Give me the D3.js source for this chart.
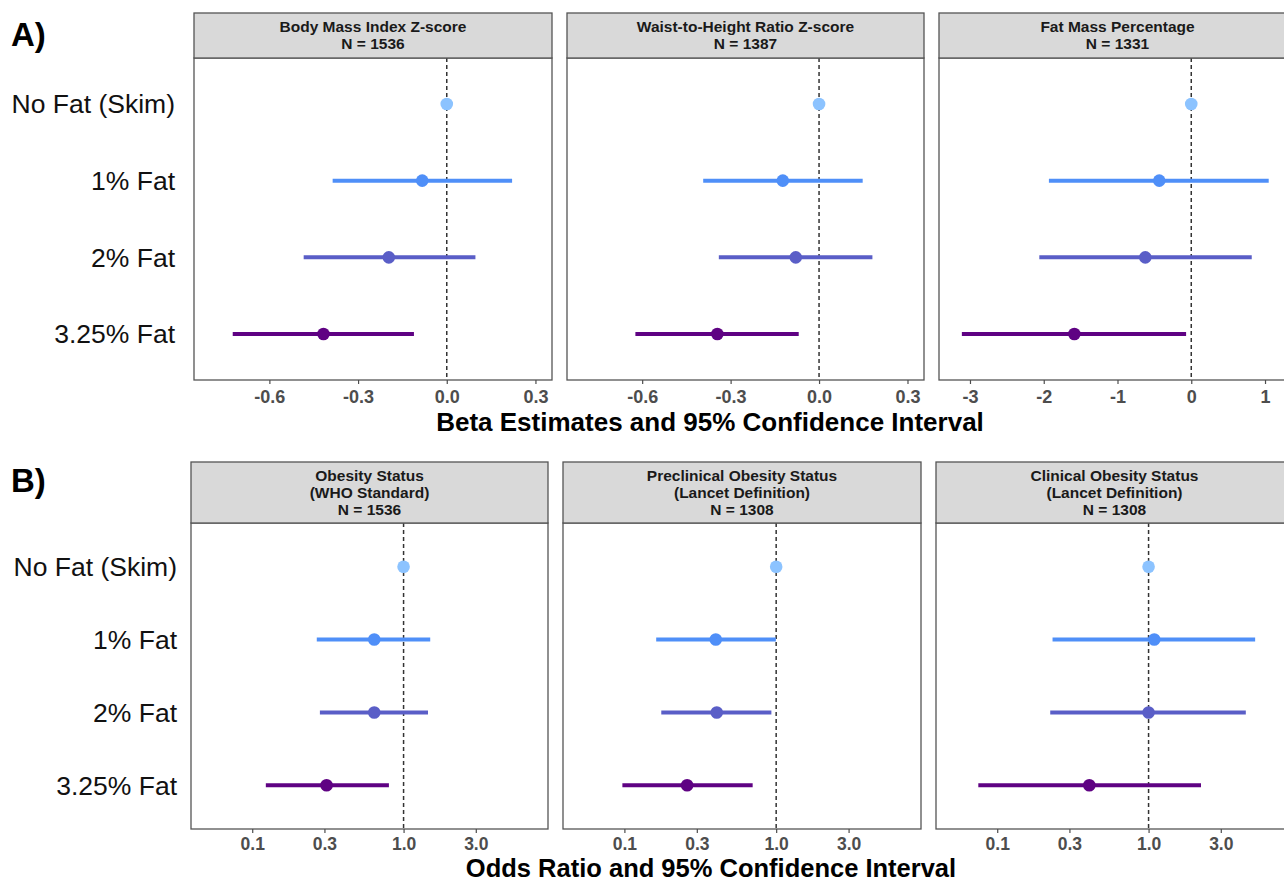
<!DOCTYPE html>
<html><head><meta charset="utf-8">
<script src="https://cdn.jsdelivr.net/npm/d3@7"></script>
<style>
body{margin:0;background:#fff;}
svg{display:block;font-family:"Liberation Sans",Arial,Helvetica,sans-serif;}
</style></head>
<body>
<svg id="chart" width="1284" height="883"></svg>
<script>
// ---------- DATA ----------
const categories = ["No Fat (Skim)", "1% Fat", "2% Fat", "3.25% Fat"];
const catColors = ["#8cc3ff", "#4f8ff8", "#5a5ec7", "#5f0283"];

// Panel A: beta estimates (No Fat = reference)
const bmiEst = [0, -0.083, -0.196, -0.417];
const bmiLo  = [0, -0.386, -0.484, -0.724];
const bmiHi  = [0,  0.221,  0.097, -0.111];

const whtrEst = [0, -0.123, -0.079, -0.345];
const whtrLo  = [0, -0.393, -0.340, -0.623];
const whtrHi  = [0,  0.148,  0.181, -0.069];

const fmpEst = [0, -0.434, -0.623, -1.585];
const fmpLo  = [0, -1.93, -2.06, -3.11];
const fmpHi  = [0,  1.05,  0.82, -0.07];

// Panel B: odds ratios (No Fat = reference)
const obEst = [1, 0.64, 0.64, 0.31];
const obLo  = [1, 0.267, 0.28, 0.123];
const obHi  = [1, 1.50, 1.45, 0.80];

const preEst = [1, 0.40, 0.406, 0.259];
const preLo  = [1, 0.162, 0.175, 0.097];
const preHi  = [1, 0.995, 0.93, 0.70];

const cliEst = [1, 1.09, 1.0, 0.406];
const cliLo  = [1, 0.232, 0.224, 0.075];
const cliHi  = [1, 5.06, 4.39, 2.22];

const betaTicks = [-0.6, -0.3, 0.0, 0.3];
const fmpTicks = [-3, -2, -1, 0, 1];
const orTicks = [0.1, 0.3, 1.0, 3.0];

const stripA = [["Body Mass Index Z-score", "N = 1536"], ["Waist-to-Height Ratio Z-score", "N = 1387"], ["Fat Mass Percentage", "N = 1331"]];
const stripB = [["Obesity Status", "(WHO Standard)", "N = 1536"], ["Preclinical Obesity Status", "(Lancet Definition)", "N = 1308"], ["Clinical Obesity Status", "(Lancet Definition)", "N = 1308"]];

// ---------- DRAW ----------
const svg = d3.select("#chart");
const border = "#555555";
const hyphen = f => (d => f(d).replace("\u2212", "-"));

function makeRows(est, lo, hi) {
  return categories.map((c, i) => ({cat: c, est: est[i], lo: lo[i], hi: hi[i], color: catColors[i]}));
}

function drawPanel(cfg) {
  const {x0, x1, stripTop, stripBot, bottom, xScale, ticks, fmt, refVal, rows, strip, lineGap, tickY, tickSize, showY, labelX} = cfg;
  const g = svg.append("g");
  const y = d3.scalePoint().domain(categories).range([stripBot, bottom]).padding(0.6);
  g.append("rect").attr("x", x0).attr("y", stripBot).attr("width", x1 - x0).attr("height", bottom - stripBot)
    .attr("fill", "#fff");
  g.append("line").attr("x1", xScale(refVal)).attr("x2", xScale(refVal))
    .attr("y1", stripBot).attr("y2", bottom)
    .attr("stroke", "#333").attr("stroke-width", 1.5).attr("stroke-dasharray", "4,3");
  g.selectAll(".ci").data(rows).join("line")
    .attr("x1", d => xScale(d.lo)).attr("x2", d => xScale(d.hi))
    .attr("y1", d => y(d.cat)).attr("y2", d => y(d.cat))
    .attr("stroke", d => d.color).attr("stroke-width", 4);
  g.selectAll(".pt").data(rows).join("circle")
    .attr("cx", d => xScale(d.est)).attr("cy", d => y(d.cat)).attr("r", 6.3)
    .attr("fill", d => d.color);
  g.append("rect").attr("x", x0).attr("y", stripBot).attr("width", x1 - x0).attr("height", bottom - stripBot)
    .attr("fill", "none").attr("stroke", border).attr("stroke-width", 1.3);
  g.append("rect").attr("x", x0).attr("y", stripTop).attr("width", x1 - x0).attr("height", stripBot - stripTop)
    .attr("fill", "#d9d9d9").attr("stroke", border).attr("stroke-width", 1.3);
  const midY = (stripTop + stripBot) / 2;
  strip.forEach((t, i) => {
    g.append("text").attr("x", (x0 + x1) / 2)
      .attr("y", midY + (i - (strip.length - 1) / 2) * lineGap)
      .attr("dy", "0.35em").attr("text-anchor", "middle")
      .attr("font-size", 15.5).attr("font-weight", "bold").attr("fill", "#1a1a1a").text(t);
  });
  const ax = g.append("g").attr("transform", `translate(0,${bottom})`)
    .call(d3.axisBottom(xScale).tickValues(ticks).tickFormat(fmt).tickSize(4).tickPadding(4));
  ax.select(".domain").remove();
  ax.selectAll(".tick line").attr("stroke", "#4d4d4d").attr("stroke-width", 1.2);
  ax.selectAll(".tick text").attr("font-size", tickSize).attr("font-weight", "bold")
    .attr("fill", "#4d4d4d").attr("font-family", "Liberation Sans, Arial, sans-serif")
    .attr("y", null).attr("dy", null).attr("transform", `translate(0,${tickY - bottom})`)
    .attr("dominant-baseline", "central");
  if (showY) {
    svg.append("g").selectAll("text").data(categories).join("text")
      .attr("x", labelX).attr("y", d => y(d)).attr("dy", "0.35em")
      .attr("text-anchor", "end").attr("font-size", 26.5).attr("fill", "#111").text(d => d);
  }
}

// Panel A
const topCfg = {stripTop: 13, stripBot: 58, bottom: 380, lineGap: 17, tickY: 397, tickSize: 18, labelX: 175};
const betaDomain = [-0.855, 0.356];
const panelsA = [
  {x0: 194, x1: 552, dom: betaDomain, ticks: betaTicks, fmt: hyphen(d3.format(".1f")), rows: makeRows(bmiEst, bmiLo, bmiHi)},
  {x0: 567, x1: 924, dom: betaDomain, ticks: betaTicks, fmt: hyphen(d3.format(".1f")), rows: makeRows(whtrEst, whtrLo, whtrHi)},
  {x0: 939, x1: 1296, dom: [-3.42, 1.42], ticks: fmpTicks, fmt: hyphen(d3.format("d")), rows: makeRows(fmpEst, fmpLo, fmpHi)}
];
panelsA.forEach((p, i) => {
  drawPanel(Object.assign({}, topCfg, {
    x0: p.x0, x1: p.x1, xScale: d3.scaleLinear().domain(p.dom).range([p.x0, p.x1]),
    ticks: p.ticks, fmt: p.fmt, refVal: 0, rows: p.rows, strip: stripA[i], showY: i === 0
  }));
});

// Panel B
const botCfg = {stripTop: 462, stripBot: 523, bottom: 829, lineGap: 17, tickY: 843.5, tickSize: 17.5, labelX: 177};
const orDomain = [0.0394, 9.0];
const panelsB = [
  {x0: 191, x1: 548, rows: makeRows(obEst, obLo, obHi)},
  {x0: 563, x1: 921, rows: makeRows(preEst, preLo, preHi)},
  {x0: 936, x1: 1293, rows: makeRows(cliEst, cliLo, cliHi)}
];
panelsB.forEach((p, i) => {
  drawPanel(Object.assign({}, botCfg, {
    x0: p.x0, x1: p.x1, xScale: d3.scaleLog().domain(orDomain).range([p.x0, p.x1]),
    ticks: orTicks, fmt: d3.format(".1f"), refVal: 1, rows: p.rows, strip: stripB[i], showY: i === 0
  }));
});

// Titles
svg.append("text").attr("x", 710).attr("y", 422).attr("dy", "0.35em").attr("text-anchor", "middle")
  .attr("font-size", 26).attr("font-weight", "bold").attr("fill", "#000")
  .text("Beta Estimates and 95% Confidence Interval");
svg.append("text").attr("x", 711).attr("y", 868.5).attr("dy", "0.35em").attr("text-anchor", "middle")
  .attr("font-size", 25.5).attr("font-weight", "bold").attr("fill", "#000")
  .text("Odds Ratio and 95% Confidence Interval");
svg.append("text").attr("x", 11).attr("y", 46).attr("font-size", 33).attr("font-weight", "bold").attr("fill", "#000").text("A)");
svg.append("text").attr("x", 11).attr("y", 492).attr("font-size", 33).attr("font-weight", "bold").attr("fill", "#000").text("B)");
</script>
</body></html>
